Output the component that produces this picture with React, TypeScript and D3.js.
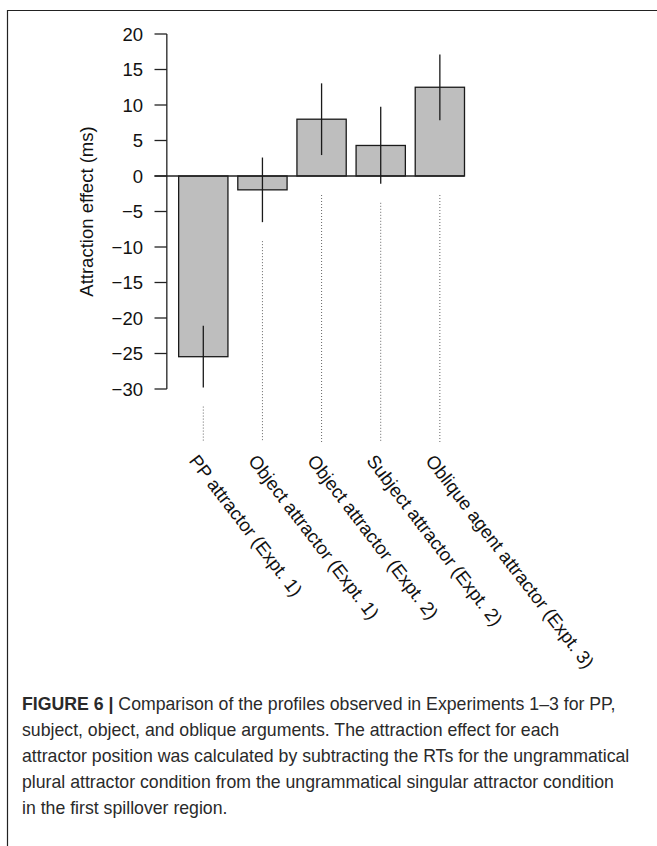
import React from "react";
import * as d3 from "d3";

const categories = [
  "PP attractor (Expt. 1)",
  "Object attractor (Expt. 1)",
  "Object attractor (Expt. 2)",
  "Subject attractor (Expt. 2)",
  "Oblique agent attractor (Expt. 3)",
];
const effects = [-25.45, -1.95, 8.0, 4.3, 12.5];
const ciLow = [-29.8, -6.5, 2.95, -1.1, 7.85];
const ciHigh = [-21.1, 2.6, 13.05, 9.75, 17.1];
const yTicks = [20, 15, 10, 5, 0, -5, -10, -15, -20, -25, -30];
const yTitle = "Attraction effect (ms)";
const captionBold = "FIGURE 6 |";
const captionLines = [
  " Comparison of the profiles observed in Experiments 1\u20133 for PP,",
  "subject, object, and oblique arguments. The attraction effect for each",
  "attractor position was calculated by subtracting the RTs for the ungrammatical",
  "plural attractor condition from the ungrammatical singular attractor condition",
  "in the first spillover region.",
];

const W = 657;
const H = 846;
const FONT = "'Liberation Sans', Arial, Helvetica, sans-serif";

export default function App() {
  const barWidth = 1;
  const space = 0.2;
  const n = categories.length;
  const xMax = n * (barWidth + space);
  const x = d3.scaleLinear().domain([0, xMax]).range([168.8, 464.5]);
  const y = d3.scaleLinear().domain([-30, 20]).range([389, 34]);
  const axisX = x(-0.04);
  const tickLeft = x(-0.29);
  const fmt = (v: number) => (v < 0 ? "\u2212" + Math.abs(v) : String(v));
  const angle = 52.5;

  return (
    <svg
      width={W}
      height={H}
      style={{ position: "absolute", left: 0, top: 0, background: "#fff" }}
      fontFamily={FONT}
    >
      {/* frame */}
      <line x1={7} y1={10.5} x2={W} y2={10.5} stroke="#222" strokeWidth={1.2} />
      <line x1={7.5} y1={10} x2={7.5} y2={H} stroke="#222" strokeWidth={1.2} />

      {/* y axis */}
      <line x1={axisX} y1={y(20)} x2={axisX} y2={y(-30)} stroke="#222" strokeWidth={1.3} />
      {yTicks.map((t) => (
        <g key={t}>
          <line x1={tickLeft} x2={axisX} y1={y(t)} y2={y(t)} stroke="#222" strokeWidth={1.3} />
          <text
            x={143}
            y={y(t)}
            dy="0.36em"
            textAnchor="end"
            fontSize={18.5}
            fill="#111"
          >
            {fmt(t)}
          </text>
        </g>
      ))}
      <text
        transform={`translate(${93},${(y(20) + y(-30)) / 2}) rotate(-90)`}
        textAnchor="middle"
        fontSize={18.5}
        fill="#111"
      >
        {yTitle}
      </text>

      {/* bars */}
      {effects.map((v, i) => {
        const x0 = x(space + i * (barWidth + space));
        const x1 = x(space + i * (barWidth + space) + barWidth);
        return (
          <rect
            key={i}
            x={x0}
            y={Math.min(y(v), y(0))}
            width={x1 - x0}
            height={Math.abs(y(v) - y(0))}
            fill="#bebebe"
            stroke="#1a1a1a"
            strokeWidth={1.3}
          />
        );
      })}

      {/* zero line */}
      <line x1={tickLeft} x2={x(xMax)} y1={y(0)} y2={y(0)} stroke="#222" strokeWidth={1.3} />

      {/* error bars */}
      {effects.map((_, i) => {
        const cx = x(space + i * (barWidth + space) + barWidth / 2);
        return (
          <line key={i} x1={cx} x2={cx} y1={y(ciLow[i])} y2={y(ciHigh[i])} stroke="#1a1a1a" strokeWidth={1.3} />
        );
      })}

      {/* dotted guides and labels */}
      {categories.map((c, i) => {
        const cx = x(space + i * (barWidth + space) + barWidth / 2);
        const top = y(Math.min(0, ciLow[i])) + 19;
        return (
          <g key={c}>
            <line x1={cx} x2={cx} y1={top} y2={442} stroke="#666" strokeWidth={1} strokeDasharray="1 2" />
            <text
              transform={`translate(${cx - 15},${461}) rotate(${angle})`}
              fontSize={18.5}
              fill="#111"
            >
              {c}
            </text>
          </g>
        );
      })}

      {/* caption */}
      {captionLines.map((line, i) => (
        <text key={i} x={22} y={710 + i * 26} fontSize={17.7} fill="#2a2a2a">
          {i === 0 ? (
            <>
              <tspan fontWeight="bold">{captionBold}</tspan>
              <tspan>{line}</tspan>
            </>
          ) : (
            line
          )}
        </text>
      ))}
    </svg>
  );
}
